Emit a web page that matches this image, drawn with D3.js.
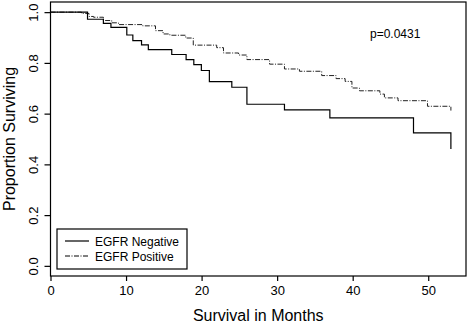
<!DOCTYPE html>
<html>
<head>
<meta charset="utf-8">
<script src="https://cdn.jsdelivr.net/npm/d3@7"></script>
<style>
body { margin: 0; background: #fff; }
svg { display: block; font-family: "Liberation Sans", Arial, sans-serif; }
</style>
</head>
<body>
<svg width="468" height="326"></svg>
<script>
// survival step data: [month, proportion surviving]
var negative = [
	[0, 1.0], [4.9, 0.972], [7.0, 0.956], [8.0, 0.940], [10.1, 0.910],
	[10.9, 0.888], [12.05, 0.871], [12.95, 0.852], [16.05, 0.833], [17.95, 0.813],
	[18.97, 0.793], [19.97, 0.770], [21.03, 0.726], [24.0, 0.704], [26.0, 0.637],
	[30.97, 0.615], [36.98, 0.583], [48.05, 0.524], [53.0, 0.461]
];
var positive = [
	[0, 1.0], [4.1, 0.995], [5.1, 0.983], [5.7, 0.980], [7.0, 0.967],
	[8.1, 0.958], [9.0, 0.951], [12.2, 0.946], [13.9, 0.927], [14.9, 0.914],
	[15.8, 0.909], [17.9, 0.898], [18.9, 0.870], [22.0, 0.860], [22.9, 0.839],
	[24.9, 0.831], [26.0, 0.813], [29.0, 0.795], [30.97, 0.776], [32.95, 0.767],
	[35.9, 0.750], [37.8, 0.738], [39.0, 0.727], [39.9, 0.701], [40.9, 0.690],
	[43.6, 0.677], [44.2, 0.662], [46.0, 0.651], [49.9, 0.629], [53.0, 0.612]
];
var xTicks = [0, 10, 20, 30, 40, 50];
var yTicks = [0.0, 0.2, 0.4, 0.6, 0.8, 1.0];
var legendLabels = ["EGFR Negative", "EGFR Positive"];
var pValue = "p=0.0431";

var svg = d3.select("svg"),
	plotLeft = 50.5, plotRight = 466, plotTop = 2, plotBottom = 276;

var x = d3.scaleLinear().domain([0, 55]).range([plotLeft, plotRight]),
	y = d3.scaleLinear().domain([-0.04, 1.04]).range([plotBottom, plotTop]);

var line = d3.line()
	.x(d => x(d[0]))
	.y(d => y(d[1]))
	.curve(d3.curveStepAfter);

// curves
svg.append("path")
	.datum(positive)
	.attr("d", line)
	.attr("fill", "none")
	.attr("stroke", "#222")
	.attr("stroke-width", 1)
	.attr("stroke-dasharray", "5,1.5,1,1.5");

svg.append("path")
	.datum(negative)
	.attr("d", line)
	.attr("fill", "none")
	.attr("stroke", "#000")
	.attr("stroke-width", 1.2);

// box
svg.append("rect")
	.attr("x", plotLeft).attr("y", plotTop)
	.attr("width", plotRight - plotLeft).attr("height", plotBottom - plotTop)
	.attr("fill", "none")
	.attr("stroke", "#000")
	.attr("stroke-width", 1.2);

// x axis
var gx = svg.append("g")
	.attr("transform", "translate(0," + plotBottom + ")")
	.call(d3.axisBottom(x).tickValues(xTicks).tickSize(5).tickPadding(5).tickFormat(d3.format("d")));
gx.select(".domain").remove();
gx.selectAll("line").attr("stroke", "#000").attr("stroke-width", 1.2);
gx.selectAll("text").attr("font-size", 13).attr("font-family", "Liberation Sans, Arial, sans-serif").attr("fill", "#000");

// y axis
var gy = svg.append("g")
	.attr("transform", "translate(" + plotLeft + ",0)")
	.call(d3.axisLeft(y).tickValues(yTicks).tickSize(6).tickFormat(d3.format(".1f")));
gy.select(".domain").remove();
gy.selectAll("line").attr("stroke", "#000").attr("stroke-width", 1.2);
gy.selectAll("text")
	.attr("font-size", 13)
	.attr("font-family", "Liberation Sans, Arial, sans-serif")
	.attr("fill", "#000")
	.attr("x", null).attr("dy", null)
	.attr("text-anchor", "middle")
	.attr("transform", "translate(-13,0) rotate(-90)");

// titles
svg.append("text")
	.attr("x", (plotLeft + plotRight) / 2)
	.attr("y", 321)
	.attr("text-anchor", "middle")
	.attr("font-size", 16)
	.text("Survival in Months");

svg.append("text")
	.attr("transform", "translate(15," + ((plotTop + plotBottom) / 2) + ") rotate(-90)")
	.attr("text-anchor", "middle")
	.attr("font-size", 16)
	.text("Proportion Surviving");

svg.append("text")
	.attr("x", 370)
	.attr("y", 38)
	.attr("font-size", 12)
	.text(pValue);

// legend
var lg = svg.append("g");
lg.append("rect")
	.attr("x", 57).attr("y", 229)
	.attr("width", 130).attr("height", 40)
	.attr("fill", "#fff")
	.attr("stroke", "#000")
	.attr("stroke-width", 1.2);

var dashes = [null, "5,1.5,1,1.5"];
legendLabels.forEach(function(label, i) {
	var ly = 241 + i * 15;
	lg.append("line")
		.attr("x1", 65).attr("x2", 89)
		.attr("y1", ly).attr("y2", ly)
		.attr("stroke", "#000")
		.attr("stroke-width", i ? 1 : 1.2)
		.attr("stroke-dasharray", dashes[i]);
	lg.append("text")
		.attr("x", 95).attr("y", ly + 4.5)
		.attr("font-size", 12)
		.text(label);
});
</script>
</body>
</html>
